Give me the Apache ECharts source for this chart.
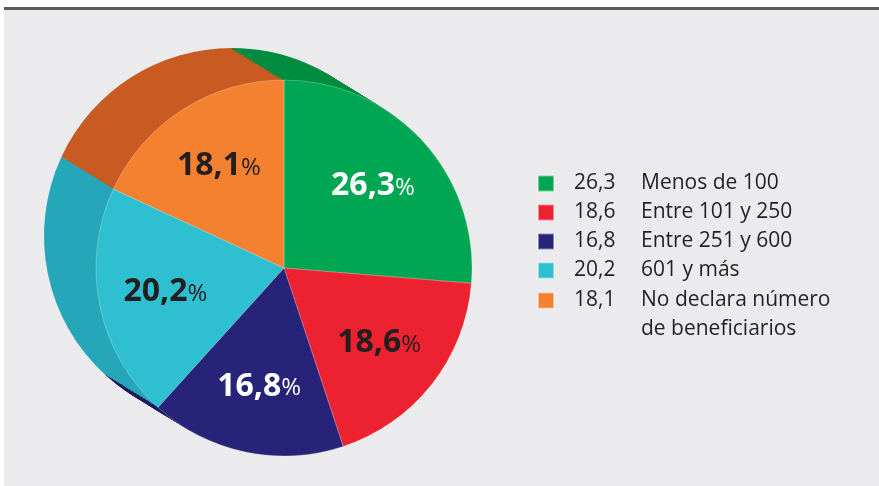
<!DOCTYPE html>
<html>
<head>
<meta charset="utf-8">
<script src="https://cdn.jsdelivr.net/npm/echarts@6/dist/echarts.min.js"></script>
<style>
  html, body { margin: 0; padding: 0; background: #fff; }
  #chart { width: 879px; height: 486px; }
</style>
</head>
<body>
<div id="chart"></div>
<script>
// datos
const categories = ['Menos de 100', 'Entre 101 y 250', 'Entre 251 y 600', '601 y más', 'No declara número de beneficiarios'];
const values = [26.3, 18.6, 16.8, 20.2, 18.1];
const valueLabels = ['26,3', '18,6', '16,8', '20,2', '18,1'];
const legendLines = [['Menos de 100'], ['Entre 101 y 250'], ['Entre 251 y 600'], ['601 y más'], ['No declara número', 'de beneficiarios']];

// estilos
const faceColors = ['#00a651', '#ed2231', '#262378', '#2ebfd1', '#f38130'];
const sideColors = ['#008c3f', '#b81c28', '#1b1a5c', '#25a7b9', '#c95a22'];
const labelColors = ['#ffffff', '#231f20', '#ffffff', '#231f20', '#231f20'];

const CX = 284, CY = 268, R = 188;
const DX = -52, DY = -32, LAYERS = 18;   // profundidad del "3D"
const FONT = '"Open Sans", "Noto Sans", sans-serif';
const LH = 29;

const chart = echarts.init(document.getElementById('chart'));

const series = [];
// cara frontal (primero, para que la leyenda tome sus colores)
series.push({
    type: 'pie', silent: true, z: 30, animation: false,
    center: [CX, CY], radius: [0, R], startAngle: 90, clockwise: true,
    label: { show: false }, labelLine: { show: false },
    itemStyle: { borderColor: 'rgba(255,255,255,0.45)', borderWidth: 0.6 },
    data: values.map((v, i) => ({ value: v, name: categories[i], itemStyle: { color: faceColors[i] } }))
});
// capas laterales
for (let k = LAYERS; k >= 1; k--) {
    const t = k / LAYERS;
    series.push({
        type: 'pie', silent: true, z: 1 + (LAYERS - k), animation: false,
        center: [CX + DX * t, CY + DY * t], radius: [0, R], startAngle: 90, clockwise: true,
        label: { show: false }, labelLine: { show: false },
        itemStyle: { borderWidth: 0 },
        data: values.map((v, i) => ({ value: v, name: categories[i], itemStyle: { color: sideColors[i] } }))
    });
}
// etiquetas
const rich = c => ({
    b: { fontFamily: FONT, fontWeight: 'bold', fontSize: 32, color: c },
    p: { fontFamily: FONT, fontSize: 24, color: c, padding: [4, 0, 0, 0] }
});
series.push({
    type: 'pie', silent: true, z: 31, animation: false,
    center: [CX, CY], radius: [0, 236], startAngle: 90, clockwise: true,
    itemStyle: { color: 'rgba(0,0,0,0)' },
    labelLine: { show: false },
    label: {
        show: true, position: 'inside',
        formatter: p => '{b|' + valueLabels[p.dataIndex] + '}{p|%}'
    },
    data: values.map((v, i) => ({ value: v, name: categories[i], label: { rich: rich(labelColors[i]) } }))
});

const legendText = {
    fontFamily: FONT, fontSize: 21, color: '#231f20',
    rich: {
        v: { fontFamily: FONT, fontSize: 21, color: '#231f20', width: 67, padding: [0, 0, 0, 15], lineHeight: LH },
        n: { fontFamily: FONT, fontSize: 21, color: '#231f20', lineHeight: LH }
    }
};
const legendFormatter = name => {
    const i = categories.indexOf(name);
    return legendLines[i].map((line, j) => '{v|' + (j === 0 ? valueLabels[i] : ' ') + '}{n|' + line + '}').join('\n');
};
const legendItem = i => ({ name: categories[i], itemStyle: { color: faceColors[i] } });

chart.setOption({
    backgroundColor: '#ebebed',
    animation: false,
    graphic: [
        { type: 'rect', silent: true, shape: { x: 0, y: 0, width: 879, height: 7 }, style: { fill: '#ffffff' } },
        { type: 'rect', silent: true, shape: { x: 0, y: 0, width: 4, height: 486 }, style: { fill: '#ffffff' } },
        { type: 'rect', silent: true, shape: { x: 4, y: 7, width: 875, height: 3 }, style: { fill: '#5b5b5b' } }
    ],
    legend: [
        {
            orient: 'vertical', left: 537, top: 173, padding: 0,
            itemWidth: 16, itemHeight: 16, itemGap: 8, icon: 'rect', selectedMode: false,
            textStyle: legendText, formatter: legendFormatter,
            data: [0, 1, 2, 3].map(legendItem)
        },
        {
            // última entrada en dos líneas: relleno superior para alinear la primera línea con el cuadro
            orient: 'vertical', left: 537, top: 290, padding: 0,
            itemWidth: 16, itemHeight: 16, icon: 'rect', selectedMode: false,
            textStyle: Object.assign({}, legendText, { padding: [LH, 0, 0, 0] }), formatter: legendFormatter,
            data: [legendItem(4)]
        }
    ],
    series: series
});
</script>
</body>
</html>
